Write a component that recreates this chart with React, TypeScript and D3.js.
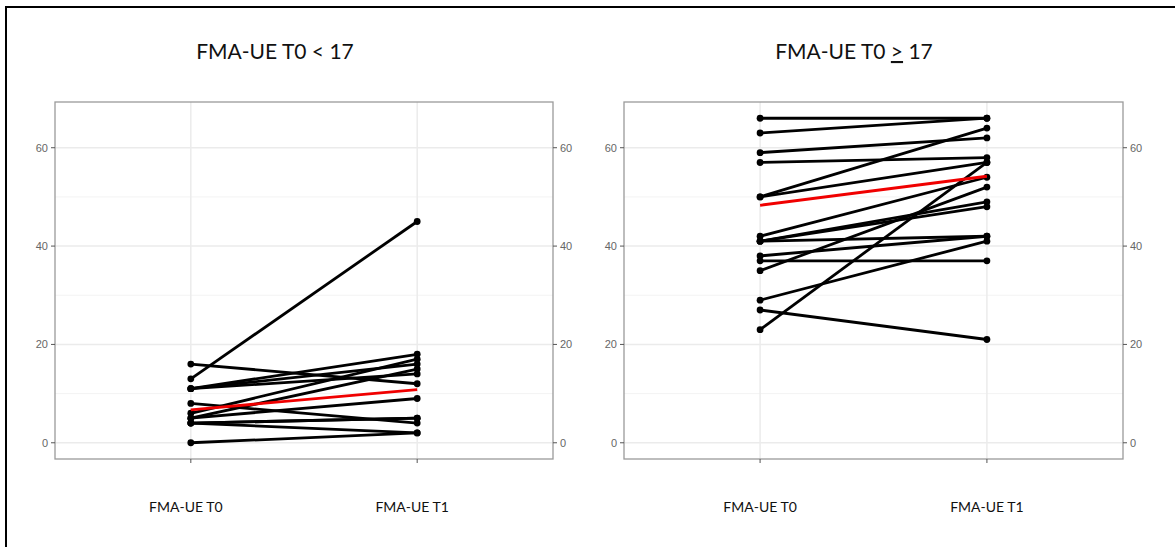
import React from "react";
import * as d3 from "d3";

// ---- data ----
const timepoints = ["FMA-UE T0", "FMA-UE T1"];
const yTicks = [0, 20, 40, 60];
const yMinorTicks = [10, 30, 50];

// Panel 1: FMA-UE T0 < 17
const lowT0 = [16, 13, 11, 11, 11, 8, 6, 5, 5, 4, 4, 4, 0];
const lowT1 = [12, 45, 18, 16, 14, 4, 17, 15, 9, 5, 5, 2, 2];
const lowRed = [6.7, 10.8];

// Panel 2: FMA-UE T0 >= 17
const highT0 = [66, 63, 59, 57, 50, 50, 42, 41, 41, 41, 38, 37, 35, 29, 27, 23];
const highT1 = [66, 66, 62, 58, 64, 57, 54, 49, 48, 42, 42, 37, 52, 41, 21, 57];
const highRed = [48.3, 54.2];

const W = 1175;
const H = 547;
const panelTop = 102;
const panelBottom = 459;

const y = d3.scaleLinear().domain([-3.3, 69.3]).range([panelBottom, panelTop]);

type PanelProps = {
  x0: number;
  x1: number;
  t0: number[];
  t1: number[];
  red: number[];
  title: React.ReactNode;
  titleX: number;
  labelShift: number;
};

function Panel({ x0, x1, t0, t1, red, title, titleX, labelShift }: PanelProps) {
  const x = d3.scalePoint<string>().domain(timepoints).range([x0, x1]).padding(0.6);
  const line = d3
    .line<[string, number]>()
    .x((d) => x(d[0]) as number)
    .y((d) => y(d[1]));
  const grid = "#ebebeb";
  const axisCol = "#555";
  return (
    <g>
      <text
        x={titleX}
        y={59}
        textAnchor="middle"
        fontFamily="Lato, 'Open Sans', sans-serif"
        fontSize={21}
        fill="#111"
      >
        {title}
      </text>
      <rect x={x0} y={panelTop} width={x1 - x0} height={panelBottom - panelTop} fill="#fff" />
      {yMinorTicks.map((t) => (
        <line key={"m" + t} x1={x0} x2={x1} y1={y(t)} y2={y(t)} stroke="#f3f3f3" strokeWidth={1} />
      ))}
      {yTicks.map((t) => (
        <line key={"g" + t} x1={x0} x2={x1} y1={y(t)} y2={y(t)} stroke={grid} strokeWidth={1.5} />
      ))}
      {timepoints.map((c) => (
        <line key={"v" + c} x1={x(c)} x2={x(c)} y1={panelTop} y2={panelBottom} stroke={grid} strokeWidth={1.5} />
      ))}
      {t0.map((v, i) => (
        <path
          key={"l" + i}
          d={line([[timepoints[0], v], [timepoints[1], t1[i]]]) as string}
          stroke="#000"
          strokeWidth={2.8}
          fill="none"
        />
      ))}
      {t0.map((v, i) => (
        <circle key={"a" + i} cx={x(timepoints[0])} cy={y(v)} r={3.4} fill="#000" />
      ))}
      {t1.map((v, i) => (
        <circle key={"b" + i} cx={x(timepoints[1])} cy={y(v)} r={3.4} fill="#000" />
      ))}
      <path
        d={line([[timepoints[0], red[0]], [timepoints[1], red[1]]]) as string}
        stroke="#f00000"
        strokeWidth={2.8}
        fill="none"
      />
      <rect
        x={x0}
        y={panelTop}
        width={x1 - x0}
        height={panelBottom - panelTop}
        fill="none"
        stroke="#9a9a9a"
        strokeWidth={1.3}
      />
      {yTicks.map((t) => (
        <g key={"t" + t}>
          <line x1={x0 - 4} x2={x0} y1={y(t)} y2={y(t)} stroke={axisCol} strokeWidth={1} />
          <text
            x={x0 - 7}
            y={y(t)}
            dy="0.35em"
            textAnchor="end"
            fontFamily="'Liberation Sans', Arial, sans-serif"
            fontSize={11}
            fill="#666"
          >
            {t}
          </text>
          <line x1={x1} x2={x1 + 4} y1={y(t)} y2={y(t)} stroke={axisCol} strokeWidth={1} />
          <text
            x={x1 + 7}
            y={y(t)}
            dy="0.35em"
            textAnchor="start"
            fontFamily="'Liberation Sans', Arial, sans-serif"
            fontSize={11}
            fill="#666"
          >
            {t}
          </text>
        </g>
      ))}
      {timepoints.map((c) => (
        <g key={"x" + c}>
          <line x1={x(c)} x2={x(c)} y1={panelBottom} y2={panelBottom + 4} stroke={axisCol} strokeWidth={1} />
          <text
            x={(x(c) as number) + labelShift}
            y={512}
            textAnchor="middle"
            fontFamily="Lato, 'Open Sans', sans-serif"
            fontSize={14}
            fill="#111"
          >
            {c}
          </text>
        </g>
      ))}
    </g>
  );
}

export default function App() {
  return (
    <svg
      width={W}
      height={H}
      style={{ position: "absolute", left: 0, top: 0, background: "#fff" }}
    >
      <rect x={0} y={0} width={W} height={H} fill="#fff" />
      <line x1={5} x2={W} y1={7} y2={7} stroke="#000" strokeWidth={2} />
      <line x1={6} x2={6} y1={6} y2={H} stroke="#000" strokeWidth={2} />
      <Panel
        x0={55}
        x1={553}
        t0={lowT0}
        t1={lowT1}
        red={lowRed}
        title="FMA-UE T0 < 17"
        titleX={275}
        labelShift={-5}
      />
      <Panel
        x0={624}
        x1={1123}
        t0={highT0}
        t1={highT1}
        red={highRed}
        titleX={854}
        labelShift={0}
        title={
          <>
            {"FMA-UE T0 "}
            <tspan textDecoration="underline">{">"}</tspan>
            {" 17"}
          </>
        }
      />
    </svg>
  );
}
